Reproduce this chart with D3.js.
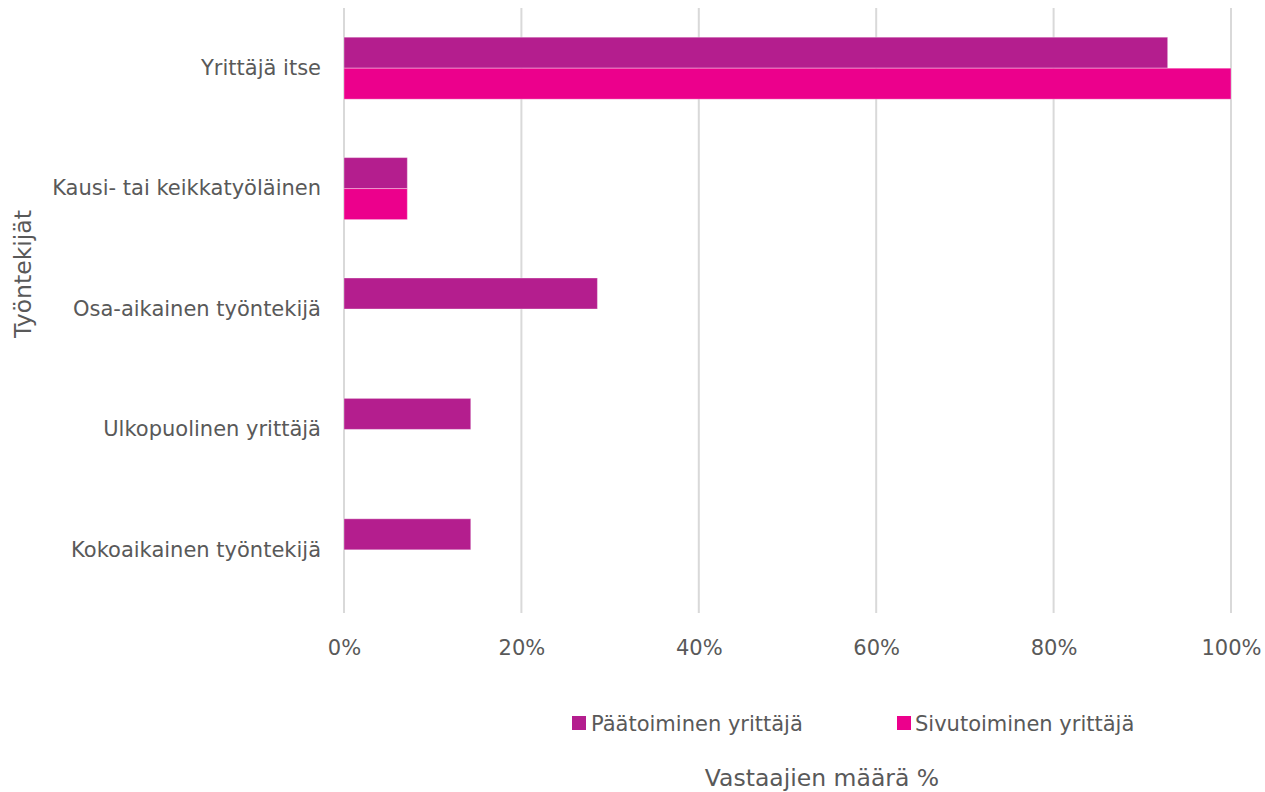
<!DOCTYPE html>
<html><head><meta charset="utf-8">
<script src="https://cdn.jsdelivr.net/npm/d3@7"></script>
<style>body{margin:0;background:#fff}svg{display:block}text{font-family:"DejaVu Sans",Verdana,sans-serif;fill:#595959}</style>
</head><body><svg id="c" width="1265" height="792"></svg>
<script>
const categories = ["Yrittäjä itse","Kausi- tai keikkatyöläinen","Osa-aikainen työntekijä","Ulkopuolinen yrittäjä","Kokoaikainen työntekijä"];
const seriesNames = ["Päätoiminen yrittäjä","Sivutoiminen yrittäjä"];
const paatoiminen = [92.86,7.14,28.57,14.29,14.29];
const sivutoiminen = [100,7.14,0,0,0];
const xTicks = [0,20,40,60,80,100];
const colors = ["#B41E8E","#EC008C"];
const xTitle = "Vastaajien määrä %";
const yTitle = "Työntekijät";

const svg = d3.select("#c");
const L=344,R=1231,T=8,B=610;
const x = d3.scaleLinear().domain([0,100]).range([L,R]);
const y = d3.scaleBand().domain(categories).range([T,B]).paddingInner(0.485).paddingOuter(0.2425);
const ys = d3.scaleBand().domain(seriesNames).range([0,y.bandwidth()]);
const fs = 21;

// gridlines
svg.append("g").selectAll("line").data(xTicks).join("line")
 .attr("x1",d=>x(d)).attr("x2",d=>x(d)).attr("y1",T).attr("y2",B+3)
 .attr("stroke","#d9d9d9").attr("stroke-width",2);

// x axis labels
const xa = svg.append("g").attr("transform",`translate(0,${B})`)
 .call(d3.axisBottom(x).tickValues(xTicks).tickFormat(d=>d+"%").tickSize(0).tickPadding(30));
xa.select(".domain").remove();
xa.selectAll("text").style("font-size",fs+"px").attr("fill","#595959").style("font-family","DejaVu Sans");

// y axis labels
const ya = svg.append("g").attr("transform",`translate(${L},0)`)
 .call(d3.axisLeft(y).tickSize(0).tickPadding(23));
ya.select(".domain").remove();
ya.selectAll("text").style("font-size",fs+"px").attr("fill","#595959").style("font-family","DejaVu Sans");

// bars
const data = [paatoiminen, sivutoiminen];
seriesNames.forEach((s,i)=>{
  svg.append("g").selectAll("rect").data(categories.map((c,j)=>({c,v:data[i][j]})).filter(d=>d.v>0)).join("rect")
   .attr("x",x(0)).attr("y",d=>y(d.c)+ys(s)).attr("width",d=>x(d.v)-x(0)).attr("height",ys.bandwidth())
   .attr("fill",colors[i]).attr("stroke","rgba(255,255,255,0.35)").attr("stroke-width",1);
});

// legend
const lg = [{x:572,tx:591},{x:897,tx:915}];
seriesNames.forEach((s,i)=>{
  svg.append("rect").attr("x",lg[i].x).attr("y",716).attr("width",14).attr("height",14).attr("fill",colors[i]);
  svg.append("text").attr("x",lg[i].tx).attr("y",731).style("font-size",fs+"px").text(s);
});

// titles
svg.append("text").attr("x",822).attr("y",786).attr("text-anchor","middle").style("font-size","23.5px").text(xTitle);
svg.append("text").attr("transform","translate(31,274) rotate(-90)").attr("text-anchor","middle").style("font-size","23.5px").text(yTitle);
</script></body></html>
